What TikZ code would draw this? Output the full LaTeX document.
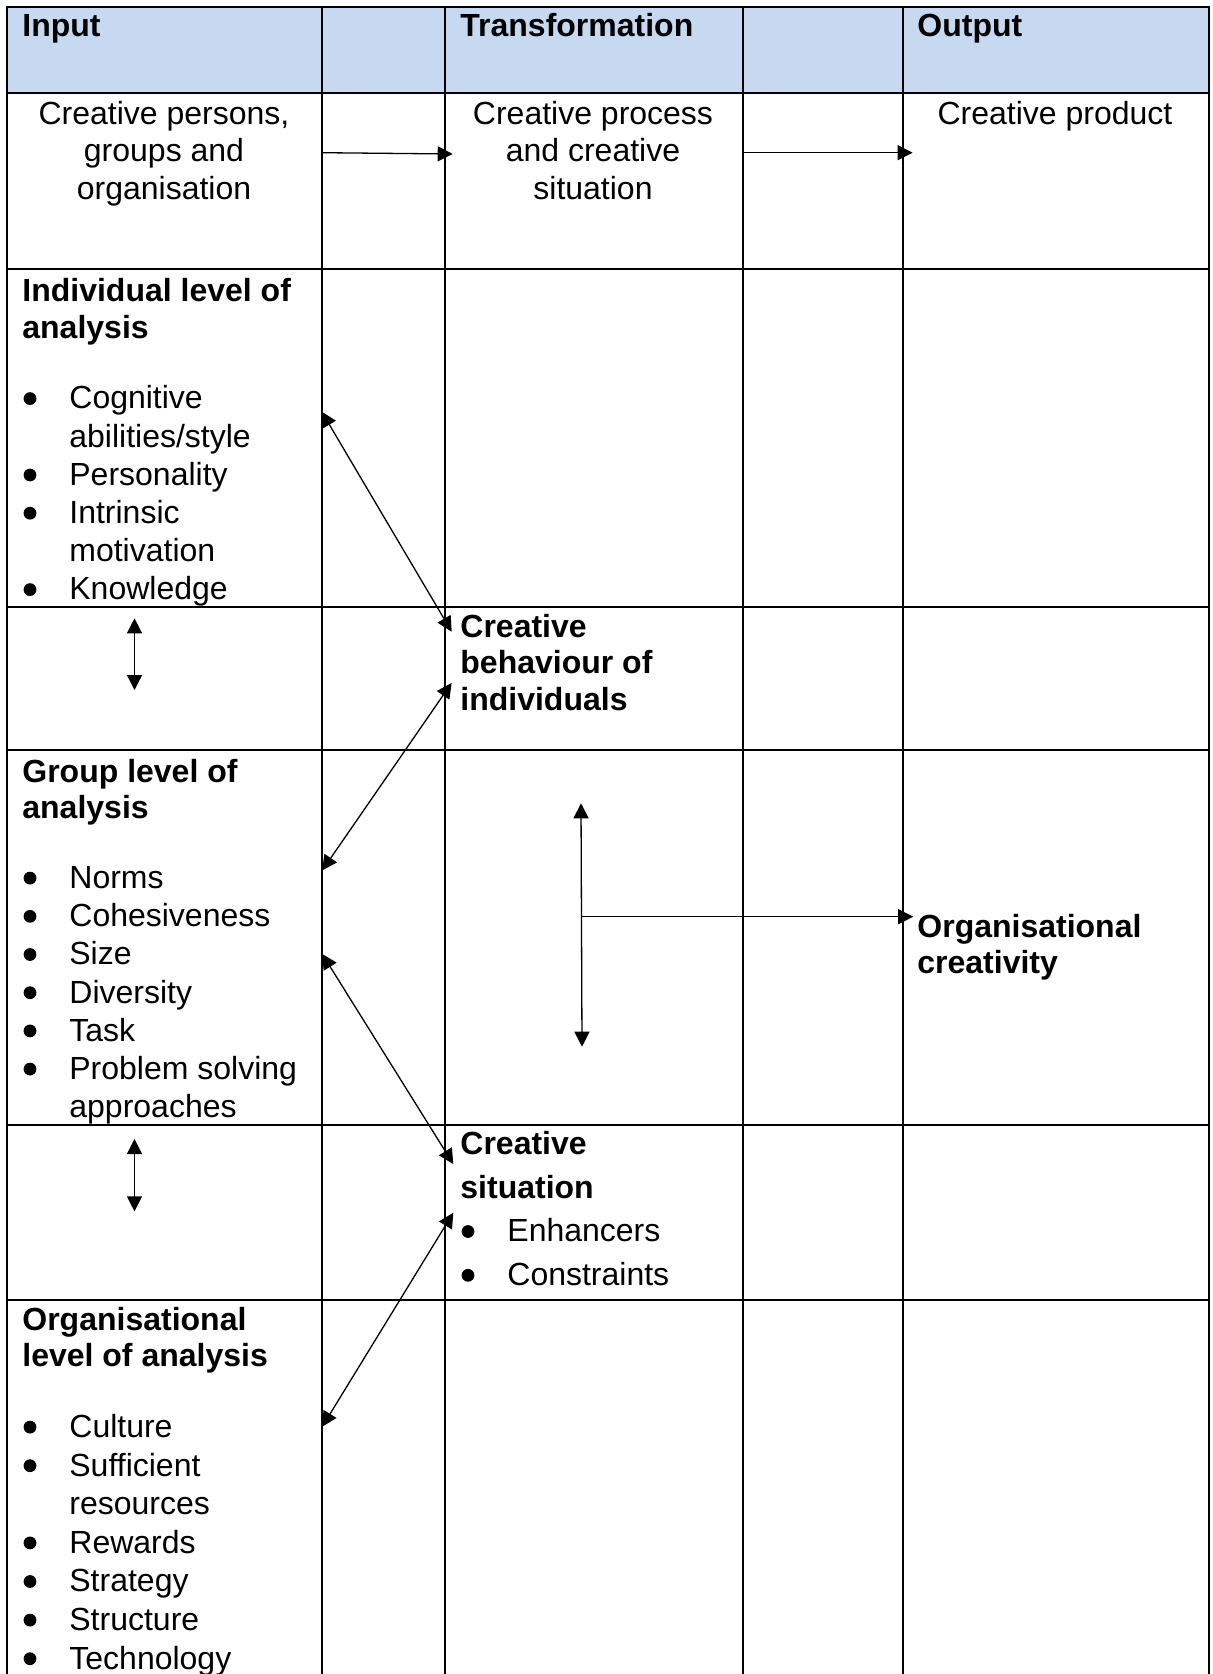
\documentclass[tikz,border=0pt]{standalone}
\usepackage{fontspec}
\setmainfont{Liberation Sans}
\usetikzlibrary{arrows.meta}
\definecolor{headblue}{RGB}{198,217,241}

% line helpers for the stacked cell texts
\newcommand\bskip[1]{\baselineskip=#1\relax}
\newcommand\hd[1]{\hbox{\bfseries #1}}
\newcommand\dotmark{\tikz[baseline=0pt]\fill[black] (3.2pt,5.2pt) circle[radius=3.2pt];}
\newcommand\bitem[1]{\hbox{\hbox to 23.5pt{\hskip0.6pt\dotmark\hss}#1}}
\newcommand\bcont[1]{\hbox{\hskip23.5pt #1}}
\newcommand\ctrline[1]{\hbox to 140pt{\hss #1\hss}}

\begin{document}
\begin{tikzpicture}[x=0.5pt,y=-0.5pt,
  grid/.style={line width=1pt, draw=black},
  conn/.style={line width=0.65pt, draw=black},
  onehead/.style={-{Triangle[length=7.5pt,width=7.5pt]}},
  twohead/.style={{Triangle[length=7.5pt,width=7.5pt]}-{Triangle[length=7.5pt,width=7.5pt]}},
  cell/.style={anchor=base west, inner sep=0pt, font=\fontsize{16}{18}\selectfont},
  headcell/.style={cell, font=\fontsize{16}{18}\selectfont\bfseries},
]
\useasboundingbox (0,0) rectangle (1213,1674);
\fill[white] (0,0) rectangle (1213,1674);

% header band
\fill[headblue] (7,7) rectangle (1209,93);

% table rules
\draw[grid] (7,1674) -- (7,7) -- (1209,7) -- (1209,1674);
\foreach \yy in {93,269,607,750,1125,1299.5}
  \draw[grid] (7,\yy) -- (1209,\yy);
\foreach \xx in {322,445,743,903}
  \draw[grid] (\xx,7) -- (\xx,1674);

% header texts
\node[headcell] (hin)  at (22,37)  {Input};
\node[headcell] (htr)  at (460,37) {Transformation};
\node[headcell] (hout) at (917,37) {Output};

% first row
\node[cell, anchor=base] (persons) at (164,124.5)
  {\vtop{\bskip{18.7pt}\ctrline{Creative persons,}\ctrline{groups and}\ctrline{organisation}}};
\node[cell, anchor=base] (process) at (593,124.5)
  {\vtop{\bskip{18.7pt}\ctrline{Creative process}\ctrline{and creative}\ctrline{situation}}};
\node[cell, anchor=base] (product) at (1055,124.5)
  {\vtop{\ctrline{Creative product}}};

% individual level
\node[cell] (indiv) at (22,302)
  {\vtop{\bskip{18.5pt}\hd{Individual level of}\hd{analysis}
   \bskip{35pt}\bitem{Cognitive}
   \bskip{19.1pt}\bcont{abilities/style}\bitem{Personality}\bitem{Intrinsic}
   \bcont{motivation}\bitem{Knowledge}}};

% creative behaviour
\node[cell] (behav) at (460,637)
  {\vtop{\bskip{18.25pt}\hd{Creative}\hd{behaviour of}\hd{individuals}}};

% group level
\node[cell] (group) at (22,782)
  {\vtop{\bskip{18.25pt}\hd{Group level of}\hd{analysis}
   \bskip{35pt}\bitem{Norms}
   \bskip{19.1pt}\bitem{Cohesiveness}\bitem{Size}\bitem{Diversity}\bitem{Task}
   \bitem{Problem solving}\bcont{approaches}}};

% organisational creativity
\node[cell] (orgcre) at (917,937)
  {\vtop{\bskip{18pt}\hd{Organisational}\hd{creativity}}};

% creative situation
\node[cell] (situ) at (460,1154.3)
  {\vtop{\bskip{21.9pt}\hd{Creative}\hd{situation}
   \bitem{Enhancers}\bitem{Constraints}}};

% organisational level
\node[cell] (orglev) at (22,1330)
  {\vtop{\bskip{18.25pt}\hd{Organisational}\hd{level of analysis}
   \bskip{35.5pt}\bitem{Culture}
   \bskip{19.3pt}\bitem{Sufficient}\bcont{resources}\bitem{Rewards}
   \bitem{Strategy}\bitem{Structure}\bitem{Technology}}};

% connector end points
\coordinate (a1s) at (322,152.7);   \coordinate (a1e) at (452.7,154);
\coordinate (a2s) at (742.5,152.7); \coordinate (a2e) at (912.6,152.7);
\coordinate (d1a) at (321.7,411.7); \coordinate (d1b) at (451.7,631.7);
\coordinate (d2a) at (451.6,683);   \coordinate (d2b) at (322.2,870.4);
\coordinate (d3a) at (322.2,954);   \coordinate (d3b) at (453.3,1164);
\coordinate (d4a) at (453.3,1212.7);\coordinate (d4b) at (322.2,1426.7);
\coordinate (v1a) at (134.5,618.3); \coordinate (v1b) at (134.5,690);
\coordinate (v2a) at (134.5,1139);  \coordinate (v2b) at (134.5,1211.4);
\coordinate (v3a) at (581,803.3);   \coordinate (v3b) at (582,1046.7);
\coordinate (hs)  at (581.5,916.7); \coordinate (he)  at (913.2,916.7);

% flow arrows
\draw[conn, onehead] (a1s) -- (a1e);
\draw[conn, onehead] (a2s) -- (a2e);
\draw[conn, twohead] (d1a) -- (d1b);
\draw[conn, twohead] (d2a) -- (d2b);
\draw[conn, twohead] (d3a) -- (d3b);
\draw[conn, twohead] (d4a) -- (d4b);
\draw[conn, twohead] (v1a) -- (v1b);
\draw[conn, twohead] (v2a) -- (v2b);
\draw[conn, twohead] (v3a) -- (v3b);
\draw[conn, onehead] (hs) -- (he);
\end{tikzpicture}
\end{document}
